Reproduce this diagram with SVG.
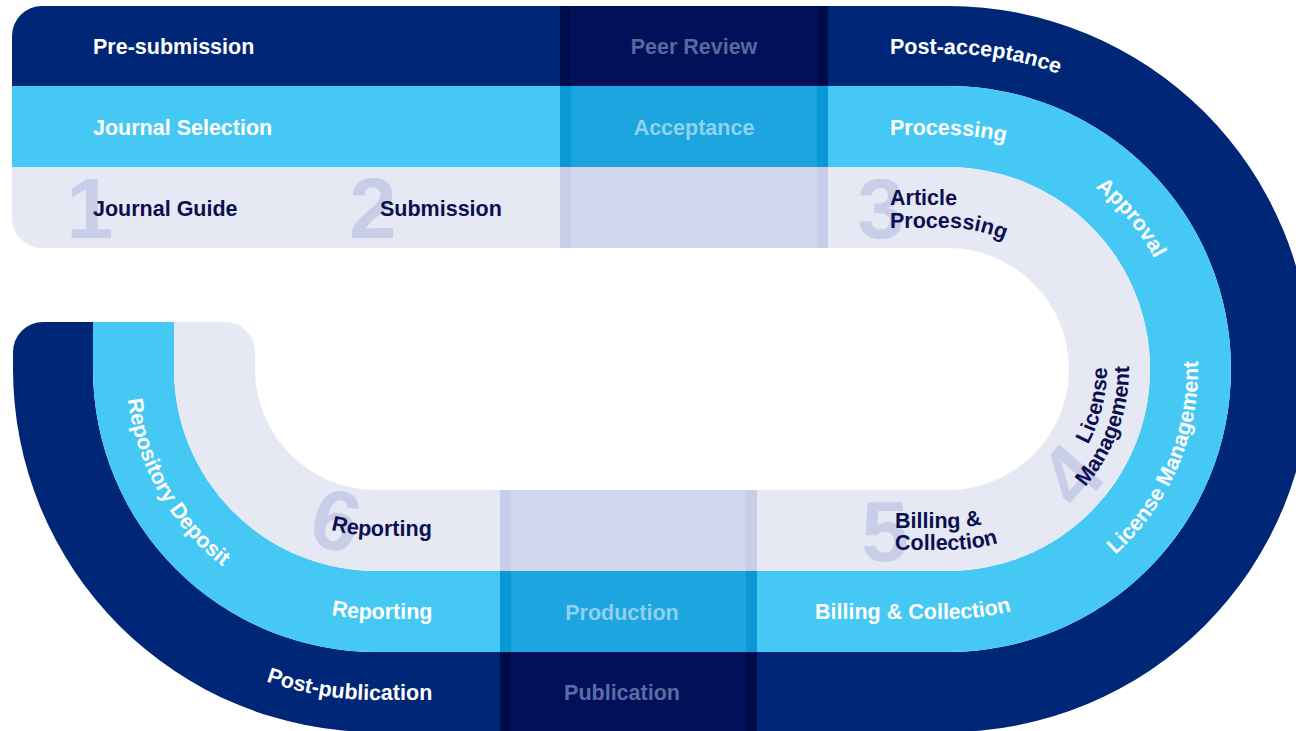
<svg xmlns="http://www.w3.org/2000/svg" width="1296" height="731" viewBox="0 0 1296 731">
<defs>
<style>
.t{font-family:"Liberation Sans",Arial,sans-serif;font-weight:700;font-size:21.5px}
.w{fill:#ffffff}
.d{fill:#0b0f4f}
.num{font-family:"Liberation Sans",Arial,sans-serif;font-weight:700;font-size:85px;fill:#c8cee8}
.navy{fill:#002677}
.blue{fill:#46c8f5}
.pale{fill:#e6e8f4}
</style>
<path id="pTopNavy" d="M 880,54 H 948 A 315 315 0 0 1 1263,369"/>
<path id="pTopBlue" d="M 880,135 H 948 A 234 234 0 0 1 1182,369"/>
<path id="pTopPale1" d="M 880,205 H 948 A 164 164 0 0 1 1112,369"/>
<path id="pTopPale2" d="M 880,228 H 948 A 141 141 0 0 1 1089,369"/>
<path id="pBLNavy" d="M 45,369 A 331 331 0 0 0 376,700 H 520"/>
<path id="pBLBlue" d="M 126,369 A 250 250 0 0 0 376,619 H 520"/>
<path id="pBLPale" d="M 209,369 A 167 167 0 0 0 376,536 H 520"/>
<path id="pBLNum" d="M 190,369 A 186 186 0 0 0 376,555 H 520"/>
<path id="pBRBlue" d="M 700,619 H 948 A 250 250 0 0 0 1198,369 A 250 250 0 0 0 948,119"/>
<path id="pBRPale1" d="M 700,528 H 948 A 159 159 0 0 0 1107,369 A 159 159 0 0 0 948,210"/>
<path id="pBRPale2" d="M 700,550 H 948 A 181 181 0 0 0 1129,369 A 181 181 0 0 0 948,188"/>
<path id="pBRNum" d="M 700,561 H 948 A 192 192 0 0 0 1140,369 A 192 192 0 0 0 948,177"/>
</defs>

<g id="bands">
<path id="band-navy" class="navy" d="M 42,6 H 948 A 363 363 0 0 1 948,732 H 376 A 363 363 0 0 1 13,369 V 352 A 30 30 0 0 1 43,322 H 93 V 369 A 283 283 0 0 0 376,652 H 948 A 283 283 0 0 0 948,86 H 12 V 36 A 30 30 0 0 1 42,6 Z"/>
<path id="band-blue" class="blue" d="M 12,86 H 948 A 283 283 0 0 1 948,652 H 376 A 283 283 0 0 1 93,369 V 322 H 174 V 369 A 202 202 0 0 0 376,571 H 948 A 202 202 0 0 0 948,167 H 12 Z"/>
<path id="band-pale" class="pale" d="M 12,167 H 948 A 202 202 0 0 1 948,571 H 376 A 202 202 0 0 1 174,369 V 322 H 225 A 30 30 0 0 1 255,352 V 369 A 121 121 0 0 0 376,490 H 948 A 121 121 0 0 0 948,248 H 42 A 30 30 0 0 1 12,218 Z"/>
</g>

<g id="strip-top">
<rect x="560" y="6" width="268" height="80" fill="#000b4c"/>
<rect x="571" y="6" width="246" height="80" fill="#00115a"/>
<rect x="560" y="86" width="268" height="81" fill="#0b99d6"/>
<rect x="571" y="86" width="246" height="81" fill="#1ca5df"/>
<rect x="560" y="167" width="268" height="81" fill="#c8cee8"/>
<rect x="571" y="167" width="246" height="81" fill="#d1d6ed"/>
</g>
<g id="strip-bottom">
<rect x="500" y="490" width="257" height="81" fill="#c8cee8"/>
<rect x="511" y="490" width="235" height="81" fill="#d1d6ed"/>
<rect x="500" y="571" width="257" height="81" fill="#0b99d6"/>
<rect x="511" y="571" width="235" height="81" fill="#1ca5df"/>
<rect x="500" y="652" width="257" height="80" fill="#000b4c"/>
<rect x="511" y="652" width="235" height="80" fill="#00115a"/>
</g>

<g id="numbers">
<text class="num" x="90" y="238" text-anchor="middle">1</text>
<text class="num" x="373" y="238" text-anchor="middle">2</text>
<text class="num" x="881" y="238" text-anchor="middle">3</text>
<text class="num"><textPath href="#pBRNum" startOffset="413" text-anchor="middle">4</textPath></text>
<text class="num"><textPath href="#pBRNum" startOffset="185" text-anchor="middle">5</textPath></text>
<text class="num"><textPath href="#pBLNum" startOffset="244" text-anchor="middle">6</textPath></text>
</g>

<g id="stage-pre-submission">
<text class="t w" x="93" y="54">Pre-submission</text>
<text class="t w" x="93" y="135">Journal Selection</text>
<text class="t d" x="93" y="216">Journal Guide</text>
<text class="t d" x="380" y="216">Submission</text>
</g>
<g id="stage-peer-review">
<text class="t" x="694" y="54" text-anchor="middle" fill="#5a68a0">Peer Review</text>
<text class="t" x="694" y="135" text-anchor="middle" fill="#8fd3f0">Acceptance</text>
</g>
<g id="stage-post-acceptance">
<text class="t w"><textPath href="#pTopNavy" startOffset="10">Post-acceptance</textPath></text>
<text class="t w"><textPath href="#pTopBlue" startOffset="10">Processing</textPath></text>
<text class="t w"><textPath href="#pTopBlue" startOffset="274" text-anchor="middle">Approval</textPath></text>
<text class="t d"><textPath href="#pTopPale1" startOffset="10">Article</textPath></text>
<text class="t d"><textPath href="#pTopPale2" startOffset="10">Processing</textPath></text>
<text class="t w"><textPath href="#pBRBlue" startOffset="540" text-anchor="middle">License Management</textPath></text>
<text class="t d"><textPath href="#pBRPale1" startOffset="499" text-anchor="end">License</textPath></text>
<text class="t d"><textPath href="#pBRPale2" startOffset="535" text-anchor="end">Management</textPath></text>
<text class="t w"><textPath href="#pBRBlue" startOffset="115">Billing &amp; Collection</textPath></text>
<text class="t d"><textPath href="#pBRPale1" startOffset="195">Billing &amp;</textPath></text>
<text class="t d"><textPath href="#pBRPale2" startOffset="195">Collection</textPath></text>
</g>
<g id="stage-publication">
<text class="t" x="622" y="620" text-anchor="middle" fill="#8fd0ee">Production</text>
<text class="t" x="622" y="700" text-anchor="middle" fill="#5e6aa3">Publication</text>
</g>
<g id="stage-post-publication">
<text class="t w"><textPath href="#pBLNavy" startOffset="576" text-anchor="end">Post-publication</textPath></text>
<text class="t w"><textPath href="#pBLBlue" startOffset="449" text-anchor="end">Reporting</textPath></text>
<text class="t w"><textPath href="#pBLBlue" startOffset="129" text-anchor="middle">Repository Deposit</textPath></text>
<text class="t d"><textPath href="#pBLPale" startOffset="318" text-anchor="end">Reporting</textPath></text>
</g>
<g id="connectors"/>
</svg>
